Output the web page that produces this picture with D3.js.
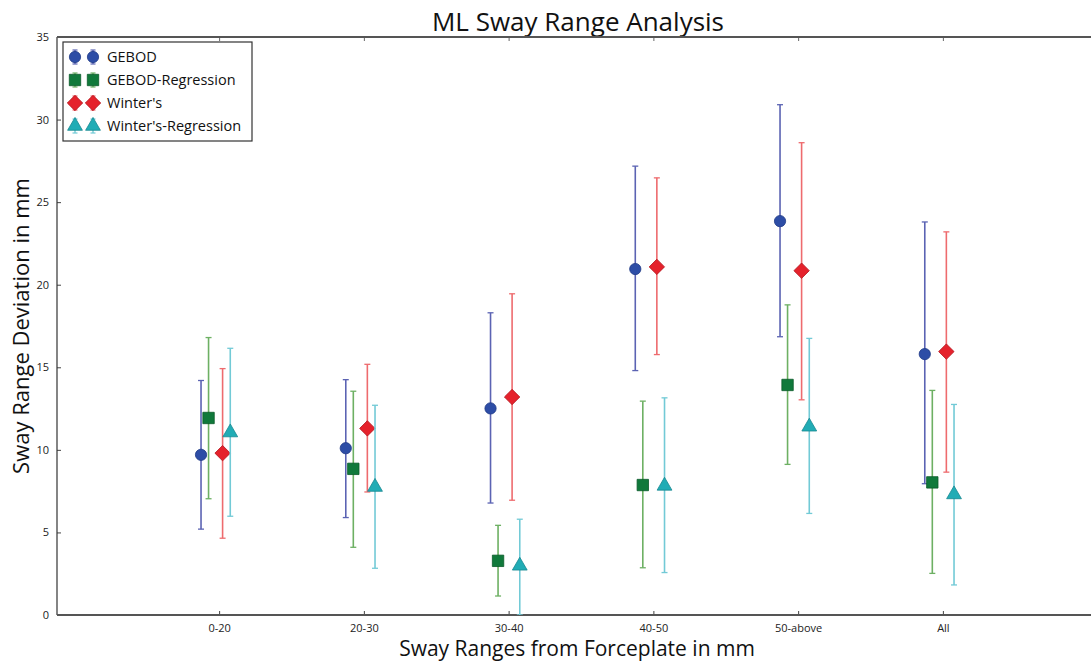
<!DOCTYPE html>
<html>
<head>
<meta charset="utf-8">
<script src="https://cdn.jsdelivr.net/npm/d3@7"></script>
<style>
  html, body { margin: 0; padding: 0; background: #fff; }
  svg { display: block; font-family: "Open Sans", "DejaVu Sans", sans-serif; }
</style>
</head>
<body>
<svg id="chart" width="1091" height="663"></svg>
<script>
const categories = ["0-20", "20-30", "30-40", "40-50", "50-above", "All"];
const yTicks = [0, 5, 10, 15, 20, 25, 30, 35];
const seriesNames = ["GEBOD", "GEBOD-Regression", "Winter's", "Winter's-Regression"];

const gebodMean  = [9.70, 10.10, 12.51, 20.95, 23.85, 15.80];
const gebodUpper = [14.20, 14.25, 18.30, 27.18, 30.90, 23.80];
const gebodLower = [5.20, 5.90, 6.78, 14.80, 16.85, 7.95];

const gebodRegMean  = [11.93, 8.85, 3.28, 7.87, 13.93, 8.03];
const gebodRegUpper = [16.80, 13.55, 5.43, 12.95, 18.78, 13.60];
const gebodRegLower = [7.04, 4.10, 1.15, 2.86, 9.12, 2.52];

const wintersMean  = [9.80, 11.30, 13.20, 21.08, 20.85, 15.95];
const wintersUpper = [14.92, 15.18, 19.45, 26.47, 28.60, 23.20];
const wintersLower = [4.65, 7.45, 6.95, 15.77, 13.03, 8.65];

const wintersRegMean  = [11.05, 7.75, 2.98, 7.82, 11.40, 7.30];
const wintersRegUpper = [16.15, 12.70, 5.80, 13.15, 16.75, 12.75];
const wintersRegLower = [5.98, 2.83, 0.00, 2.57, 6.15, 1.82];

const seriesData = [
  { name: seriesNames[0], mean: gebodMean, upper: gebodUpper, lower: gebodLower },
  { name: seriesNames[1], mean: gebodRegMean, upper: gebodRegUpper, lower: gebodRegLower },
  { name: seriesNames[2], mean: wintersMean, upper: wintersUpper, lower: wintersLower },
  { name: seriesNames[3], mean: wintersRegMean, upper: wintersRegUpper, lower: wintersRegLower }
];

const styles = [
  { offset: -0.125, symbol: d3.symbolCircle,  size: 100, rot: 0,  fill: "#2d4da6", stroke: "#1f3a86", bar: "#5b63b3" },
  { offset: -0.073, symbol: d3.symbolSquare,  size: 130, rot: 0,  fill: "#10793b", stroke: "#0a5a2a", bar: "#6db063" },
  { offset:  0.024, symbol: d3.symbolSquare,  size: 118, rot: 45, fill: "#e5222c", stroke: "#b5151e", bar: "#ee6b6e" },
  { offset:  0.077, symbol: d3.symbolTriangle, size: 95, rot: 0,  fill: "#21acb5", stroke: "#168890", bar: "#72cad6" }
];

const svg = d3.select("#chart");
const mLeft = 57, mTop = 37, mBottom = 615, mRight = 1105;

const x = d3.scaleLinear().domain([-1.12, 6.12]).range([mLeft, mRight]);
const y = d3.scaleLinear().domain([0, 35]).range([mBottom, mTop]);

svg.append("defs").append("clipPath").attr("id", "plotclip")
  .append("rect").attr("x", mLeft).attr("y", mTop).attr("width", mRight - mLeft).attr("height", mBottom - mTop);

// title
svg.append("text").attr("x", (mLeft + mRight) / 2 - 3).attr("y", 31)
  .attr("text-anchor", "middle").attr("font-size", 26).attr("fill", "#111")
  .text("ML Sway Range Analysis");

// axes
const yAxisL = d3.axisLeft(y).tickValues(yTicks).tickSize(-4).tickPadding(8);
const gy = svg.append("g").attr("transform", `translate(${mLeft},0)`).call(yAxisL);
gy.select(".domain").remove();
gy.selectAll("text").attr("font-size", 11).attr("fill", "#222").attr("font-family", "Open Sans, sans-serif");
gy.selectAll("line").attr("stroke", "#444");

const xAxisB = d3.axisBottom(x).tickValues(d3.range(categories.length))
  .tickFormat(i => categories[i]).tickSize(-4).tickPadding(9);
const gx = svg.append("g").attr("transform", `translate(0,${mBottom})`).call(xAxisB);
gx.select(".domain").remove();
gx.selectAll("text").attr("font-size", 11).attr("fill", "#222").attr("font-family", "Open Sans, sans-serif");
gx.selectAll("line").attr("stroke", "#444");

const xAxisT = d3.axisTop(x).tickValues(d3.range(categories.length)).tickFormat("").tickSize(-4);
const gxt = svg.append("g").attr("transform", `translate(0,${mTop})`).call(xAxisT);
gxt.select(".domain").remove();
gxt.selectAll("line").attr("stroke", "#666");

// spines
svg.append("line").attr("x1", mLeft).attr("x2", mLeft).attr("y1", mTop).attr("y2", mBottom)
  .attr("stroke", "#333").attr("stroke-width", 1.2);
svg.append("line").attr("x1", mLeft).attr("x2", mRight).attr("y1", mBottom).attr("y2", mBottom)
  .attr("stroke", "#555").attr("stroke-width", 1.8);
svg.append("line").attr("x1", mLeft).attr("x2", mRight).attr("y1", mTop).attr("y2", mTop)
  .attr("stroke", "#555").attr("stroke-width", 1.8);

// axis labels
svg.append("text").attr("x", (mLeft + mRight) / 2 - 4).attr("y", 656)
  .attr("text-anchor", "middle").attr("font-size", 21).attr("fill", "#111")
  .text("Sway Ranges from Forceplate in mm");
svg.append("text").attr("transform", `translate(29,${(mTop + mBottom) / 2}) rotate(-90)`)
  .attr("text-anchor", "middle").attr("font-size", 22).attr("fill", "#111")
  .text("Sway Range Deviation in mm");

// data
const plot = svg.append("g").attr("clip-path", "url(#plotclip)");
const capW = 3;
seriesData.forEach((s, si) => {
  const st = styles[si];
  const g = plot.append("g");
  categories.forEach((c, i) => {
    const cx = x(i + st.offset);
    g.append("line").attr("x1", cx).attr("x2", cx)
      .attr("y1", y(s.lower[i])).attr("y2", y(s.upper[i]))
      .attr("stroke", st.bar).attr("stroke-width", 1.6);
    [s.lower[i], s.upper[i]].forEach(v => {
      g.append("line").attr("x1", cx - capW).attr("x2", cx + capW)
        .attr("y1", y(v)).attr("y2", y(v))
        .attr("stroke", st.bar).attr("stroke-width", 1.3);
    });
  });
  categories.forEach((c, i) => {
    const cx = x(i + st.offset);
    g.append("path").attr("d", d3.symbol().type(st.symbol).size(st.size)())
      .attr("transform", `translate(${cx},${y(s.mean[i])}) rotate(${st.rot})`)
      .attr("fill", st.fill).attr("stroke", st.stroke).attr("stroke-width", 0.8);
  });
});

// legend
const lg = svg.append("g");
lg.append("rect").attr("x", 63).attr("y", 42).attr("width", 189).attr("height", 99)
  .attr("fill", "#fff").attr("stroke", "#333").attr("stroke-width", 1.2);
seriesData.forEach((s, si) => {
  const st = styles[si];
  const ry = 57 + si * 23;
  [75, 93].forEach(mx => {
    lg.append("line").attr("x1", mx).attr("x2", mx).attr("y1", ry - 7).attr("y2", ry + 7)
      .attr("stroke", st.bar).attr("stroke-width", 1.4);
    [ry - 7, ry + 7].forEach(cy => lg.append("line").attr("x1", mx - 2.5).attr("x2", mx + 2.5)
      .attr("y1", cy).attr("y2", cy).attr("stroke", st.bar).attr("stroke-width", 1.2));
    lg.append("path").attr("d", d3.symbol().type(st.symbol).size(st.size)())
      .attr("transform", `translate(${mx},${ry}) rotate(${st.rot})`)
      .attr("fill", st.fill).attr("stroke", st.stroke).attr("stroke-width", 0.8);
  });
  lg.append("text").attr("x", 107).attr("y", ry + 5).attr("font-size", 14.5).attr("fill", "#111")
    .text(s.name);
});
</script>
</body>
</html>
